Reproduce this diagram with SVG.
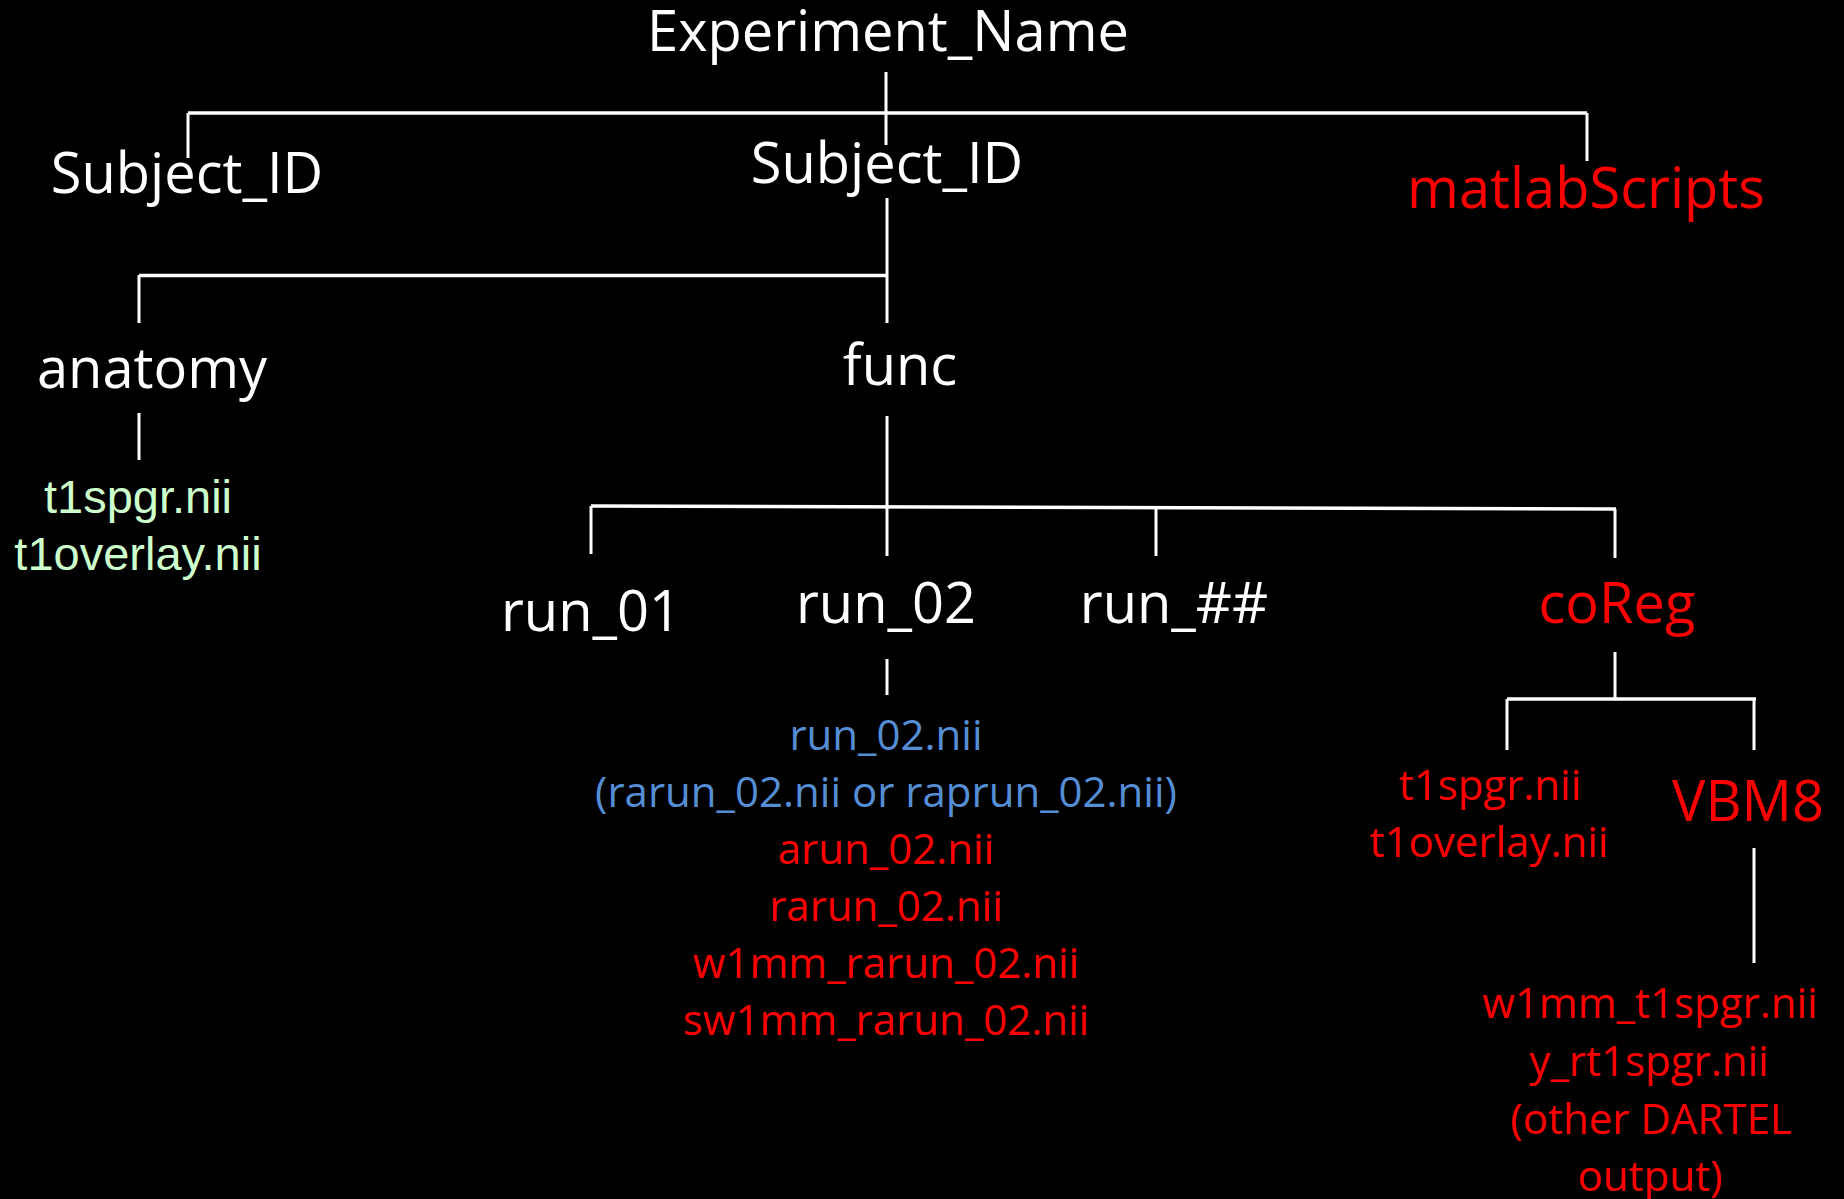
<svg xmlns="http://www.w3.org/2000/svg" width="1844" height="1199" viewBox="0 0 1844 1199">
  <style>
    .lbl { font-family: "Open Sans", "Noto Sans", sans-serif; text-anchor: middle; }
    .big { font-size: 56px; }
    .small { font-size: 42px; }
    .green { font-family: "Liberation Sans", Arial, sans-serif; font-size: 47px; fill: #CCFFCC; text-anchor: middle; }
    .white { fill: #FFFFFF; }
    .red { fill: #FF0000; }
    .blue { fill: #558ED5; }
    .conn path { fill: none; stroke: #FFFFFF; stroke-width: 3; }
    .conn path.bar { stroke-width: 3.5; }
  </style>
  <rect x="0" y="0" width="1844" height="1199" fill="#000000"/>

  <!-- connectors -->
  <g id="connectors" class="conn">
    <path d="M886 72 V145"/>
    <path class="bar" d="M188 113 H1587"/>
    <path d="M188 113 V158"/>
    <path d="M1587 113 V161"/>

    <path d="M887 198 V323"/>
    <path class="bar" d="M139 275.5 H887"/>
    <path d="M139 275 V323"/>

    <path d="M139 413 V460"/>

    <path d="M887 416 V507"/>
    <path class="bar" d="M591 506 L1616 509"/>
    <path d="M591 506 V554"/>
    <path d="M887 507 V556"/>
    <path d="M1156 508 V556"/>
    <path d="M1615 509 V558"/>

    <path d="M887 659 V695"/>

    <path d="M1615 652 V698"/>
    <path class="bar" d="M1507 699 H1756"/>
    <path d="M1507 699 V750"/>
    <path d="M1754 699 V750"/>

    <path d="M1754 848 V963"/>
  </g>

  <!-- nodes -->
  <g id="experiment-name"><text class="lbl big white" x="888" y="51">Experiment_Name</text></g>
  <g id="subject-id-1"><text class="lbl big white" x="187" y="193">Subject_ID</text></g>
  <g id="subject-id-2"><text class="lbl big white" x="887" y="183">Subject_ID</text></g>
  <g id="matlab-scripts"><text class="lbl big red" x="1586" y="208">matlabScripts</text></g>

  <g id="anatomy"><text class="lbl big white" x="152" y="388">anatomy</text></g>
  <g id="func"><text class="lbl big white" x="900" y="385">func</text></g>

  <g id="anatomy-files">
    <text class="green" x="138" y="513">t1spgr.nii</text>
    <text class="green" x="138" y="570">t1overlay.nii</text>
  </g>

  <g id="run-01"><text class="lbl big white" x="591" y="631">run_01</text></g>
  <g id="run-02"><text class="lbl big white" x="886" y="623">run_02</text></g>
  <g id="run-nn"><text class="lbl big white" x="1174" y="623">run_##</text></g>
  <g id="coreg"><text class="lbl big red" x="1617" y="623">coReg</text></g>

  <g id="run-02-files">
    <text class="lbl small blue" x="886" y="750">run_02.nii</text>
    <text class="lbl small blue" x="886" y="807">(rarun_02.nii or raprun_02.nii)</text>
    <text class="lbl small red" x="886" y="864">arun_02.nii</text>
    <text class="lbl small red" x="886" y="921">rarun_02.nii</text>
    <text class="lbl small red" x="886" y="978">w1mm_rarun_02.nii</text>
    <text class="lbl small red" x="886" y="1035">sw1mm_rarun_02.nii</text>
  </g>

  <g id="coreg-files">
    <text class="lbl small red" x="1490" y="800">t1spgr.nii</text>
    <text class="lbl small red" x="1489" y="857">t1overlay.nii</text>
  </g>

  <g id="vbm8"><text class="lbl big red" x="1748" y="821">VBM8</text></g>

  <g id="vbm8-files">
    <text class="lbl small red" x="1650" y="1018">w1mm_t1spgr.nii</text>
    <text class="lbl small red" x="1649" y="1076">y_rt1spgr.nii</text>
    <text class="lbl small red" x="1651" y="1134">(other DARTEL</text>
    <text class="lbl small red" x="1650" y="1191">output)</text>
  </g>
</svg>
